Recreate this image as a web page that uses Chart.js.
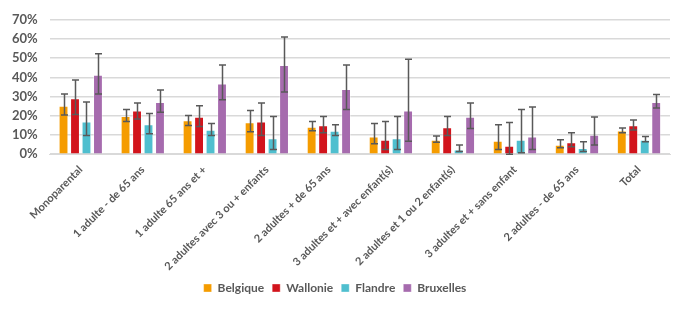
<!DOCTYPE html>
<html lang="fr">
<head>
    <meta charset="UTF-8">
    <title>Taux par type de ménage</title>
    <script src="https://cdn.jsdelivr.net/npm/chart.js"></script>
    <style>
        body { margin: 0; background: #fff; }
        #wrap { width: 700px; height: 322px; position: relative; }
    </style>
</head>
<body>
    <div id="wrap"><canvas id="chart"></canvas></div>

    <script>
        const categories = [
            'Monoparental',
            '1 adulte - de 65 ans',
            '1 adulte 65 ans et +',
            '2 adultes avec 3 ou + enfants',
            '2 adultes + de 65 ans',
            '3 adultes et + avec enfant(s)',
            '2 adultes et 1 ou 2 enfant(s)',
            '3 adultes et + sans enfant',
            '2 adultes - de 65 ans',
            'Total'
        ];
        const yTicks = [0, 10, 20, 30, 40, 50, 60, 70];

        // valeurs en %
        const belgique  = [25.3, 19.9, 17.7, 16.6, 14.3, 9.3, 7.5, 7.0, 4.9, 12.4];
        const wallonie  = [29.2, 22.8, 19.5, 17.1, 15.1, 7.5, 14.1, 4.4, 6.3, 15.1];
        const flandre   = [17.1, 15.6, 12.7, 8.3, 12.2, 8.3, 2.5, 7.5, 3.2, 7.5];
        const bruxelles = [41.4, 27.2, 36.8, 46.5, 34.0, 22.8, 19.5, 9.3, 10.2, 27.2];

        // intervalles de confiance (bas / haut)
        const belgiqueLow   = [20.4, 17.0, 14.9, 11.7, 12.2, 5.4, 6.3, 2.5, 3.4, 11.2];
        const belgiqueHigh  = [31.4, 23.3, 20.2, 22.8, 17.0, 16.0, 9.5, 15.4, 7.5, 13.6];
        const wallonieLow   = [20.7, 18.3, 14.4, 9.7, 11.2, 2.5, 9.7, 0.0, 3.9, 12.6];
        const wallonieHigh  = [38.7, 26.7, 25.3, 26.7, 19.7, 17.0, 19.7, 16.5, 11.2, 17.8];
        const flandreLow    = [9.7, 10.7, 9.7, 2.5, 9.7, 2.5, 1.4, 0.8, 1.4, 6.5];
        const flandreHigh   = [27.2, 21.2, 16.0, 19.7, 15.4, 19.7, 4.8, 23.3, 6.5, 9.2];
        const bruxellesLow  = [31.4, 21.9, 28.4, 32.4, 23.3, 6.8, 13.4, 2.5, 4.8, 24.1];
        const bruxellesHigh = [52.3, 33.4, 46.5, 61.0, 46.5, 49.4, 26.7, 24.6, 19.4, 31.1];

        const FONT = "Lato, 'Liberation Sans', sans-serif";
        const GREY = '#595959';

        // draws the whiskers on top of each bar
        const errorBars = {
            id: 'errorBars',
            afterDatasetsDraw(chart) {
                const ctx = chart.ctx;
                const y = chart.scales.y;
                ctx.save();
                ctx.strokeStyle = GREY;
                ctx.lineWidth = 1.5;
                chart.data.datasets.forEach((ds, di) => {
                    const meta = chart.getDatasetMeta(di);
                    if (meta.hidden) return;
                    meta.data.forEach((bar, i) => {
                        const top = y.getPixelForValue(ds.high[i]);
                        const bot = y.getPixelForValue(ds.low[i]);
                        const x = Math.round(bar.x) + 0.5;
                        ctx.beginPath();
                        ctx.moveTo(x, top); ctx.lineTo(x, bot);
                        ctx.moveTo(x - 3.5, top); ctx.lineTo(x + 3.5, top);
                        ctx.moveTo(x - 3.5, bot); ctx.lineTo(x + 3.5, bot);
                        ctx.stroke();
                    });
                });
                ctx.restore();
            }
        };

        function series(label, data, low, high, color) {
            return {
                label, data, low, high,
                backgroundColor: color,
                borderColor: 'rgba(255,255,255,0.35)',
                borderWidth: 1
            };
        }

        new Chart(document.getElementById('chart'), {
            type: 'bar',
            data: {
                labels: categories,
                datasets: [
                    series('Belgique', belgique, belgiqueLow, belgiqueHigh, '#f59c00'),
                    series('Wallonie', wallonie, wallonieLow, wallonieHigh, '#d2141c'),
                    series('Flandre', flandre, flandreLow, flandreHigh, '#4fbfcf'),
                    series('Bruxelles', bruxelles, bruxellesLow, bruxellesHigh, '#a66bae')
                ]
            },
            options: {
                responsive: true,
                maintainAspectRatio: false,
                animation: false,
                datasets: { bar: { categoryPercentage: 0.74, barPercentage: 0.86 } },
                layout: { padding: { left: 0, right: 30, top: 0, bottom: 18 } },
                plugins: {
                    tooltip: { enabled: false },
                    legend: {
                        position: 'bottom',
                        labels: {
                            boxWidth: 8, boxHeight: 8, padding: 8,
                            color: GREY,
                            font: { family: FONT, size: 12, weight: 'bold' }
                        }
                    }
                },
                scales: {
                    x: {
                        grid: { display: false },
                        border: { color: '#d9d9d9' },
                        ticks: {
                            minRotation: 45, maxRotation: 45,
                            autoSkip: false,
                            padding: 1,
                            color: GREY,
                            font: { family: FONT, size: 11, weight: 'bold' }
                        }
                    },
                    y: {
                        min: 0, max: 70,
                        afterBuildTicks: axis => { axis.ticks = yTicks.map(v => ({ value: v })); },
                        grid: { color: '#d9d9d9', lineWidth: 1.5, drawTicks: false },
                        border: { display: false },
                        ticks: {
                            autoSkip: false,
                            padding: 12,
                            color: GREY,
                            font: { family: FONT, size: 13, weight: 'bold' },
                            callback: v => v + '%'
                        }
                    }
                }
            },
            plugins: [errorBars]
        });
    </script>
</body>
</html>
